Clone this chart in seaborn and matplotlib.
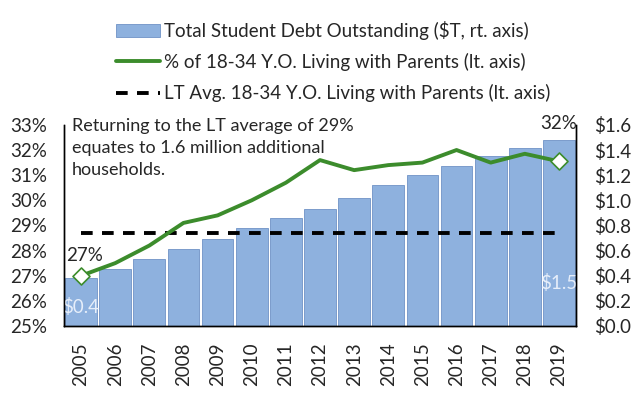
import matplotlib
matplotlib.use("Agg")
import matplotlib.pyplot as plt
import seaborn as sns
import numpy as np
import pandas as pd
from matplotlib.patches import Patch
from matplotlib.lines import Line2D

years = ['2005', '2006', '2007', '2008', '2009', '2010', '2011', '2012',
         '2013', '2014', '2015', '2016', '2017', '2018', '2019']
debt = [0.38, 0.45, 0.53, 0.61, 0.69, 0.78, 0.86, 0.93,
        1.02, 1.12, 1.20, 1.27, 1.35, 1.42, 1.48]
pct_parents = [27.0, 27.5, 28.2, 29.1, 29.4, 30.0, 30.7, 31.6,
               31.2, 31.4, 31.5, 32.0, 31.5, 31.85, 31.55]
lt_avg = 28.7

bar_color = '#8eb1de'
bar_edge = '#6f92c6'
green = '#3c8c2c'
fs = 13.5

sns.set_style("white")
plt.rcParams['font.family'] = ['Lato', 'DejaVu Sans']

df = pd.DataFrame({'Year': years, 'Debt': debt, 'Pct': pct_parents})
df['pos'] = np.arange(len(df))
df['avg'] = lt_avg

fig = plt.figure(figsize=(6.4, 3.99), dpi=100)
ax = fig.add_axes([0.1, 0.183, 0.8, 0.504])
ax2 = ax.twinx()

# bars on right axis
sns.barplot(data=df, x='pos', y='Debt', ax=ax2, color=bar_color, width=0.93,
            edgecolor=bar_edge, linewidth=0.6, saturation=1)
ax2.set_ylim(0, 1.6)
ax2.set_yticks(np.arange(0, 1.61, 0.2))
ax2.set_yticklabels([f'${v:.1f}' for v in np.arange(0, 1.61, 0.2)], fontsize=fs)
ax2.set_ylabel('')

# lines on left axis, drawn above the bars
ax.set_zorder(ax2.get_zorder() + 1)
ax.patch.set_visible(False)
sns.lineplot(data=df, x='pos', y='avg', ax=ax, color='black', lw=2.8,
             dashes=False, linestyle=(0, (3.0, 2.4)))
sns.lineplot(data=df, x='pos', y='Pct', ax=ax, color=green, lw=2.8)
ends = df.iloc[[0, -1]]
sns.scatterplot(data=ends, x='pos', y='Pct', ax=ax, marker='D', s=75,
                facecolor='white', edgecolor=green, linewidth=1.2, zorder=5)

ax.set_ylim(25, 33)
ax.set_xlim(-0.5, len(years) - 0.5)
ax.set_yticks(range(25, 34))
ax.set_yticklabels([f'{v}%' for v in range(25, 34)], fontsize=fs)
ax.set_xticks(df['pos'])
ax.set_xticklabels(years, rotation=90, fontsize=fs)
ax.set_xlabel('')
ax.set_ylabel('')
ax.tick_params(axis='y', length=0, pad=12)
ax.tick_params(axis='x', length=0, pad=12)
ax2.tick_params(length=0, pad=13)

for a in (ax, ax2):
    a.spines['top'].set_visible(False)
    for s in ('left', 'right', 'bottom'):
        a.spines[s].set_color('black')
        a.spines[s].set_linewidth(1.0)

# annotations
ax.text(0.015, 1.035, 'Returning to the LT average of 29%\nequates to 1.6 million additional\nhouseholds.',
        transform=ax.transAxes, ha='left', va='top', fontsize=13, linespacing=1.45)
ax.text(0.1, pct_parents[0] + 0.8, '27%', ha='center', va='center', fontsize=fs)
ax.text(len(years) - 1, 33.05, '32%', ha='center', va='center', fontsize=fs)
ax2.text(0, 0.15, '$0.4', ha='center', va='center', fontsize=fs, color='#e6eefa')
ax2.text(len(years) - 1, 0.34, '$1.5', ha='center', va='center', fontsize=fs, color='#e6eefa')

handles = [
    Patch(facecolor=bar_color, edgecolor=bar_edge, linewidth=0.6),
    Line2D([], [], color=green, lw=2.8),
    Line2D([], [], color='black', lw=2.8, linestyle=(0, (3.0, 2.4))),
]
labels = ['Total Student Debt Outstanding ($T, rt. axis)',
          '% of 18-34 Y.O. Living with Parents (lt. axis)',
          'LT Avg. 18-34 Y.O. Living with Parents (lt. axis)']
fig.legend(handles, labels, loc='upper left', bbox_to_anchor=(0.169, 0.967),
           frameon=False, fontsize=fs, handlelength=2.35, handletextpad=0.25,
           labelspacing=0.71, borderaxespad=0)

fig.savefig('out.png', dpi=100)
